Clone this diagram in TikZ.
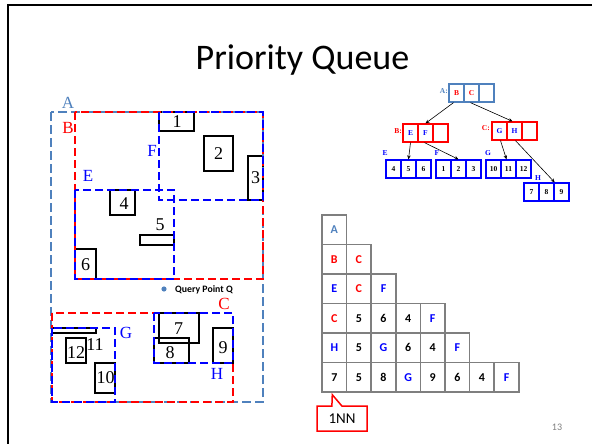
\documentclass[tikz,border=0pt]{standalone}
\usepackage{fontspec}
\setmainfont{Carlito}
\newfontfamily\serif{Liberation Serif}
\usetikzlibrary{shapes.callouts,arrows.meta}
\definecolor{sblue}{HTML}{4F81BD}
\definecolor{qgray}{HTML}{7F7F7F}
\newcommand\qtxt[2]{\textcolor{#1}{#2}}
\begin{document}
\begin{tikzpicture}[x=1pt,y=-1pt,
  box/.style={draw=black,line width=1.4},
  regA/.style={draw=sblue,dash pattern=on 9 off 4,line width=1.6},
  regR/.style={draw=red,dash pattern=on 8 off 4,line width=1.6},
  regB/.style={draw=blue,dash pattern=on 8 off 4,line width=1.6},
  num/.style={font=\serif\fontsize{18}{18}\selectfont,inner sep=0},
  rlab/.style={font=\serif\fontsize{17}{17}\selectfont,inner sep=0},
  tcell/.style={draw,line width=1.3,minimum width=15,minimum height=18,inner sep=0,font=\serif\bfseries\fontsize{7.5}{8}\selectfont},
  tlab/.style={font=\serif\bfseries\fontsize{7.5}{8}\selectfont,inner sep=0},
  arr/.style={-{Stealth[length=4,width=3.5]},line width=0.6},
  qcell/.style={draw=qgray,line width=1.5,minimum width=24.6,minimum height=29.5,inner sep=0,font=\bfseries\fontsize{12}{14}\selectfont}]
\useasboundingbox (0,0) rectangle (592,444);
\clip (0,0) rectangle (592,444);
% slide frame
\draw[line width=2] (8,460) -- (8,5) -- (600,5);
% title
\node[anchor=base,font=\fontsize{36}{38}\selectfont,inner sep=0] (title) at (302.5,70) {Priority Queue};
% object boxes
\draw[box] (159,112) rectangle (194,131);
\draw[box] (204,136) rectangle (233,171);
\draw[box] (248,156) rectangle (263,200);
\draw[box] (110,190) rectangle (135,215);
\draw[box] (140,235) rectangle (174,245);
\draw[box] (75,249) rectangle (96,279);
\draw[box] (159,313) rectangle (199,343);
\draw[box] (154,338) rectangle (189,363);
\draw[box] (213,328) rectangle (233,363);
\draw[box] (52,328) rectangle (96,333);
\draw[box] (66,338) rectangle (86,363);
\draw[box] (95,363) rectangle (115,393);
\node[num] (n1) at (177,121.5) {1};
\node[num] (n2) at (218.5,153.5) {2};
\node[num] (n3) at (255.5,178) {3};
\node[num] (n4) at (124,204) {4};
\node[num] (n5) at (160,225) {5};
\node[num] (n6) at (85.5,265) {6};
\node[num] (n7) at (178.5,328.5) {7};
\node[num] (n8) at (170,352.5) {8};
\node[num] (n9) at (223,347.5) {9};
\node[num] (n10) at (105.5,378) {10};
\node[num] (n11) at (95,345) {11};
\node[num] (n12) at (76,352.5) {12};
% regions
\draw[regA] (51,112) rectangle (263,402);
\draw[regR] (75,112) rectangle (263,279);
\draw[regR] (52,313) rectangle (233,402);
\draw[regB] (75,190) rectangle (174,279);
\draw[regB] (159,112) rectangle (263,200);
\draw[regB] (52,328) rectangle (115,402);
\draw[regB] (154,313) rectangle (233,363);
\node[rlab,text=sblue] (lA) at (68,103) {A};
\node[rlab,text=red] (lB) at (68,127.5) {B};
\node[rlab,text=blue] (lE) at (88,176) {E};
\node[rlab,text=blue] (lF) at (152,151) {F};
\node[rlab,text=red] (lC) at (224,304) {C};
\node[rlab,text=blue] (lG) at (126,333) {G};
\node[rlab,text=blue] (lH) at (217,374) {H};
% query point
\fill[sblue] (164,289) circle (2.6);
\node[anchor=west,font=\bfseries\fontsize{9.8}{10}\selectfont,inner sep=0] (qp) at (175,290) {Query Point Q};
% tree
\node[tcell,draw=sblue,text=red] (aB) at (456.5,93) {B};
\node[tcell,draw=sblue,text=red] (aC) at (471.5,93) {C};
\node[tcell,draw=sblue] (aX) at (486.5,93) {};
\node[tlab,text=sblue,anchor=east] (tA) at (448,91) {A:};
\node[tcell,draw=red,text=blue] (bE) at (410.5,133) {E};
\node[tcell,draw=red,text=blue] (bF) at (425.5,133) {F};
\node[tcell,draw=red] (bX) at (440.5,133) {};
\node[tlab,text=red,anchor=east] (tB) at (402,131) {B:};
\node[tcell,draw=red,text=blue] (cG) at (499.5,131) {G};
\node[tcell,draw=red,text=blue] (cH) at (514.5,131) {H};
\node[tcell,draw=red] (cX) at (529.5,131) {};
\node[tlab,text=red,anchor=east] (tC) at (490,128) {C:};
\node[tcell,draw=blue] (e4) at (393.5,169) {4};
\node[tcell,draw=blue] (e5) at (408.5,169) {5};
\node[tcell,draw=blue] (e6) at (423.5,169) {6};
\node[tcell,draw=blue] (f1) at (443.5,169) {1};
\node[tcell,draw=blue] (f2) at (458.5,169) {2};
\node[tcell,draw=blue] (f3) at (473.5,169) {3};
\node[tcell,draw=blue] (g10) at (493.5,169) {10};
\node[tcell,draw=blue] (g11) at (508.5,169) {11};
\node[tcell,draw=blue] (g12) at (523.5,169) {12};
\node[tcell,draw=blue] (h7) at (531.5,192) {7};
\node[tcell,draw=blue] (h8) at (546.5,192) {8};
\node[tcell,draw=blue] (h9) at (561.5,192) {9};
\node[tlab,text=blue] (tE) at (385,153) {E};
\node[tlab,text=blue] (tF) at (437,153) {F};
\node[tlab,text=blue] (tG) at (488,153) {G};
\node[tlab,text=blue] (tH) at (538,178) {H};
\draw[arr] ([xshift=-3]aB.south) -- (bF.north);
\draw[arr] ([xshift=-1]aC.south) -- ([xshift=-2]cH.north);
\draw[arr] (bE.south) -- (e5.north);
\draw[arr] ([xshift=-1]bF.south) -- (f2.north);
\draw[arr] ([xshift=1]cG.south) -- ([xshift=-2]g11.north);
\draw[arr] ([xshift=1]cH.south) -- (h8.north east);
% priority queue
\foreach \r/\row in {1/{{sblue}{A}},
  2/{{red}{B},{red}{C}},
  3/{{blue}{E},{red}{C},{blue}{F}},
  4/{{red}{C},{black}{5},{black}{6},{black}{4},{blue}{F}},
  5/{{blue}{H},{black}{5},{blue}{G},{black}{6},{black}{4},{blue}{F}},
  6/{{black}{7},{black}{5},{black}{8},{blue}{G},{black}{9},{black}{6},{black}{4},{blue}{F}}}{
  \foreach \e [count=\c] in \row {
    \node[qcell] (q\r\c) at ({322+12.3+24.6*(\c-1)},{215+14.75+29.5*(\r-1)}) {\expandafter\qtxt\e};
  }
}
\node[rectangle callout,draw=red,line width=1.5,minimum width=50,minimum height=25,inner sep=0,
  callout absolute pointer={([xshift=-2,yshift=-2]q61.south)},callout pointer width=10,
  font=\fontsize{15}{16}\selectfont] (nn) at (342,418.5) {1NN};
\node[text=qgray,font=\fontsize{10}{11}\selectfont,inner sep=0] (pg) at (557,427) {13};
\end{tikzpicture}
\end{document}
